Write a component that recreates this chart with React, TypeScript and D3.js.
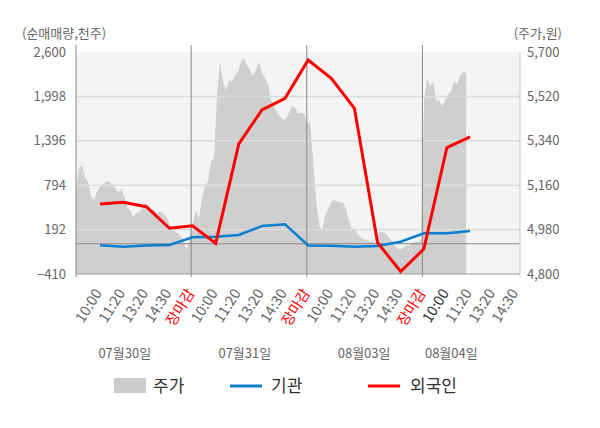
import React from "react";
import * as d3 from "d3";

const tickLabels = [
  "10:00", "11:20", "13:20", "14:30", "장마감",
  "10:00", "11:20", "13:20", "14:30", "장마감",
  "10:00", "11:20", "13:20", "14:30", "장마감",
  "10:00", "11:20", "13:20", "14:30",
];
const dayLabels = ["07월30일", "07월31일", "08월03일", "08월04일"];
const dayLabelPos = [1.07, 6.26, 11.42, 15.19];
const foreignNet = [539, 562, 502, 210, 245, 6, 1353, 1814, 1972, 2491, 2243, 1837, 15, -376, -71, 1305, 1448];
const instNet = [-21, -40, -24, -17, 87, 96, 119, 241, 264, -24, -26, -40, -30, 28, 142, 142, 173];
const price = [
  5140, 5230, 5240, 5190, 5175, 5115, 5100, 5135, 5155, 5165,
  5175, 5175, 5160, 5150, 5130, 5145, 5120, 5070, 5060, 5030,
  5045, 5050, 5065, 5090, 5075, 5060, 5060, 5045, 5055, 5045,
  5035, 5005, 4980, 4970, 4965, 4950, 4930, 4895, 4960,
  5010, 5060, 5025, 5110, 5155, 5175, 5255, 5270, 5525, 5660,
  5580, 5545, 5585, 5580, 5605, 5620, 5660, 5675, 5645, 5625,
  5605, 5625, 5660, 5615, 5595, 5570, 5505, 5475, 5455, 5440,
  5425, 5430, 5455, 5480, 5475, 5450, 5455, 5450, 5415, 5415,
  5260, 5100, 5000, 4975, 5035, 5060, 5090, 5100, 5095, 5090,
  5090, 5060, 5010, 4985, 4980, 4960, 4945, 4940, 4940, 4930,
  4930, 4925, 4970, 4970, 4965, 4950, 4940, 4920, 4905, 4900,
  4905, 4915, 4915, 4925, 4930, 4930, 4940,
  5505, 5595, 5560, 5580, 5500, 5505, 5480, 5505, 5530, 5540,
  5580, 5570, 5605, 5620, 5615,
];
const leftTicks = [2600, 1998, 1396, 794, 192, -410];
const rightTicks = [5700, 5520, 5340, 5160, 4980, 4800];

const W = 600;
const H = 428;
const L = 76;
const R = 520;
const T = 52;
const B = 274;
const FONT = "'Noto Sans CJK KR', 'Noto Sans', sans-serif";

export default function App() {
  const x = d3.scaleLinear().domain([-1.04, 18.16]).range([L, R]);
  const yL = d3.scaleLinear().domain([-410, 2600]).range([B, T]);
  const yR = d3.scaleLinear().domain([4800, 5700]).range([B, T]);
  const xp = d3.scaleLinear().domain([0, price.length - 1]).range([x(-1.04), x(15.83)]);

  const area = d3
    .area<number>()
    .x((_, i) => xp(i))
    .y0(B)
    .y1((d) => yR(d));
  const line = d3
    .line<number>()
    .x((_, i) => x(i))
    .y((d) => yL(d));

  const seps = [4, 9, 14].map((k) => x(k - 0.06));

  return (
    <svg
      width={W}
      height={H}
      style={{ position: "absolute", left: 0, top: 0, fontFamily: FONT }}
    >
      <rect x={0} y={0} width={W} height={H} fill="#fff" />
      <rect x={L} y={T} width={R - L} height={B - T} fill="#f4f4f4" />
      <path d={area(price) || ""} fill="#cfcfcf" />
      {leftTicks.slice(1, 5).map((v) => (
        <line key={v} x1={L} x2={R} y1={yL(v)} y2={yL(v)} stroke="#dcdcdc" strokeWidth={1.5} />
      ))}
      <line x1={L} x2={R} y1={yL(0)} y2={yL(0)} stroke="#888" strokeWidth={1} />
      {seps.map((sx, i) => (
        <line key={i} x1={sx} x2={sx} y1={45} y2={277} stroke="#888" strokeWidth={1} />
      ))}
      <line x1={L} x2={L} y1={45} y2={277} stroke="#888" strokeWidth={1} />
      <line x1={R} x2={R} y1={T} y2={277} stroke="#ccc" strokeWidth={1} />
      <line x1={L} x2={R} y1={B} y2={B} stroke="#999" strokeWidth={1} />
      <path d={line(instNet) || ""} fill="none" stroke="#0a7fd0" strokeWidth={2.5} />
      <path d={line(foreignNet) || ""} fill="none" stroke="#ff0000" strokeWidth={3} />

      {leftTicks.map((v) => (
        <text key={v} x={66} y={yL(v)} dy="0.36em" textAnchor="end" fontSize={13} fill="#666">
          {d3.format(",")(v)}
        </text>
      ))}
      {rightTicks.map((v) => (
        <text key={v} x={527} y={yR(v)} dy="0.36em" textAnchor="start" fontSize={13} fill="#666">
          {d3.format(",")(v)}
        </text>
      ))}
      <text x={22} y={33} dy="0.36em" fontSize={13} fill="#666">(순매매량,천주)</text>
      <text x={562} y={33} dy="0.36em" textAnchor="end" fontSize={13} fill="#666">(주가,원)</text>

      {tickLabels.map((t, i) => {
        const ax = x(i) + 2.5;
        const ay = 293;
        const color = t === "장마감" ? "#ff0000" : i === 15 ? "#333" : "#666";
        return (
          <text
            key={i}
            x={ax}
            y={ay}
            textAnchor="end"
            fontSize={14.5}
            fill={color}
            transform={`rotate(-58 ${ax} ${ay})`}
          >
            {t}
          </text>
        );
      })}
      {dayLabels.map((d, i) => (
        <text key={d} x={x(dayLabelPos[i])} y={353} dy="0.36em" textAnchor="middle" fontSize={13} fill="#666">
          {d}
        </text>
      ))}

      <rect x={114} y={378} width={32} height={15} fill="#cccccc" />
      <text x={153} y={386} dy="0.36em" fontSize={17} fill="#333">주가</text>
      <line x1={230} x2={262} y1={386} y2={386} stroke="#0a7fd0" strokeWidth={3} />
      <text x={271} y={386} dy="0.36em" fontSize={17} fill="#333">기관</text>
      <line x1={368} x2={400} y1={386} y2={386} stroke="#ff0000" strokeWidth={3} />
      <text x={410} y={386} dy="0.36em" fontSize={17} fill="#333">외국인</text>
    </svg>
  );
}
